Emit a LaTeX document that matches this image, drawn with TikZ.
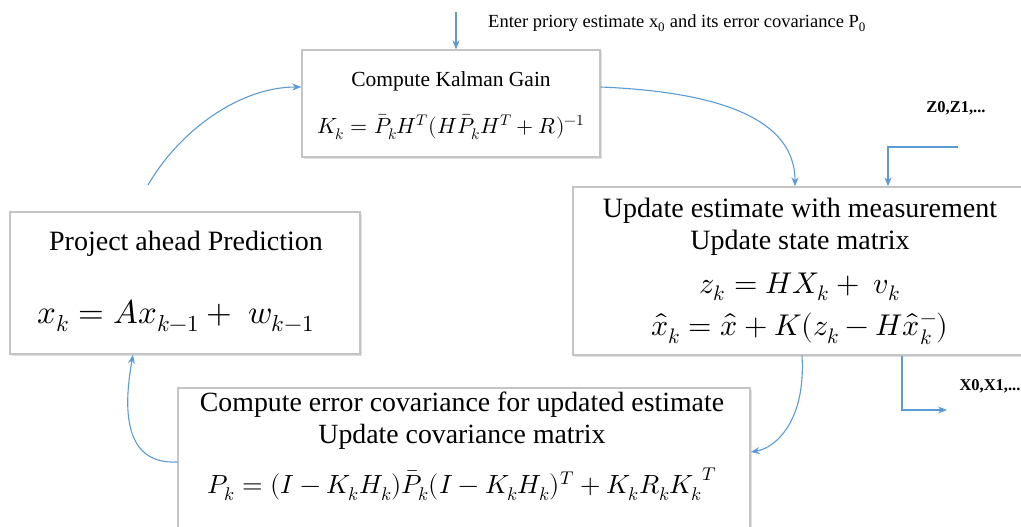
\documentclass[tikz,border=0pt]{standalone}
\usepackage{fontspec}
\usepackage{unicode-math}
\setmainfont{Liberation Serif}
\setmathfont{Latin Modern Math}
\usetikzlibrary{arrows.meta,shadows}
\definecolor{flow}{HTML}{5B9BD5}
\definecolor{frame}{HTML}{C4C4C4}
\tikzset{
  stage/.style={draw=frame, line width=1.4pt, fill=white, inner sep=0pt,
    drop shadow={shadow xshift=1.5pt, shadow yshift=-1.5pt, fill=black, opacity=0.12}},
  txt/.style={inner sep=0pt, align=center},
  arr/.style={draw=flow, line width=1.1pt, -{Stealth[length=9pt,width=7pt]}},
  tag/.style={inner sep=0pt, font=\fontsize{16.5}{18}\selectfont\bfseries}
}
\newcommand{\fs}[1]{\fontsize{#1}{#1}\selectfont}
\begin{document}
\begin{tikzpicture}[x=1pt,y=-1pt]
\useasboundingbox (0,0) rectangle (1021,527);
\clip (0,0) rectangle (1021,527);

% boxes
\node[stage, minimum width=298pt, minimum height=107pt] (kal) at (451,103.5) {};
\node[stage, minimum width=454pt, minimum height=168pt] (upd) at (800,271) {};
\node[stage, minimum width=350pt, minimum height=142pt] (proj) at (185,283) {};
\node[stage, minimum width=572pt, minimum height=172pt] (cov) at (464,474) {};

% Kalman gain
\node[txt, font=\fs{21.5}] (kalT) at (451,81) {Compute Kalman Gain};
\node[txt, font=\fs{22}] (kalF) at (451,127) {$K_k=\bar{P}_kH^T(H\bar{P}_kH^T+R)^{-1}$};

% measurement update
\node[txt, font=\fs{28}] (updA) at (800,211) {Update estimate with measurement};
\node[txt, font=\fs{28}] (updB) at (800,243) {Update state matrix};
\node[txt, font=\fs{30}] (updC) at (800,287) {$z_k=HX_k+\ v_k$};
\node[txt, font=\fs{30}] (updD) at (800,329) {$\hat{x}_k=\hat{x}+K(z_k-H\hat{x}_k^-)$};

% prediction
\node[txt, font=\fs{28}] (projT) at (186,244) {Project ahead Prediction};
\node[txt, font=\fs{33}] (projF) at (176,316) {$x_k=Ax_{k-1}+\ w_{k-1}$};

% covariance update
\node[txt, font=\fs{27.8}] (covA) at (462,405) {Compute error covariance for updated estimate};
\node[txt, font=\fs{27.8}] (covB) at (462,437) {Update covariance matrix};
\node[txt, font=\fs{26.3}] (covC) at (462,484) {$P_k=(I-K_kH_k)\bar{P}_k(I-K_kH_k)^T+K_kR_k{K_k}^T$};

% external inputs and outputs
\node[txt, anchor=west, font=\fs{18.5}] (initT) at (488,23) {Enter priory estimate x\textsubscript{0} and its error covariance P\textsubscript{0}};
\coordinate (init) at (456,12);
\draw[arr] (init) -- (init |- kal.north);

\node[tag] (zT) at (956,108) {Z0,Z1,...};
\coordinate (zin) at (958,147);
\draw[arr] (zin) -| ([xshift=88pt]upd.north);

\node[tag] (xT) at (990,386) {X0,X1,...};
\coordinate (xout) at (947,410);
\draw[arr] ([xshift=102pt]upd.south) |- (xout);

% cycle
\draw[arr] ([yshift=16.5pt]kal.east) .. controls +(120,5) and +(0,-67) .. ([xshift=-5pt]upd.north);
\draw[arr] ([xshift=2pt]upd.south) .. controls +(4,65) and +(25,-4) .. ([yshift=22pt]cov.east);
\draw[arr] ([yshift=12pt]cov.west) .. controls +(-58,3) and +(-8,45) .. ([xshift=-52pt]proj.south);
\coordinate (loop) at (148,185);
\draw[arr] (loop) .. controls (180,130) and (240,87) .. ([yshift=16.5pt]kal.west);
\end{tikzpicture}
\end{document}
